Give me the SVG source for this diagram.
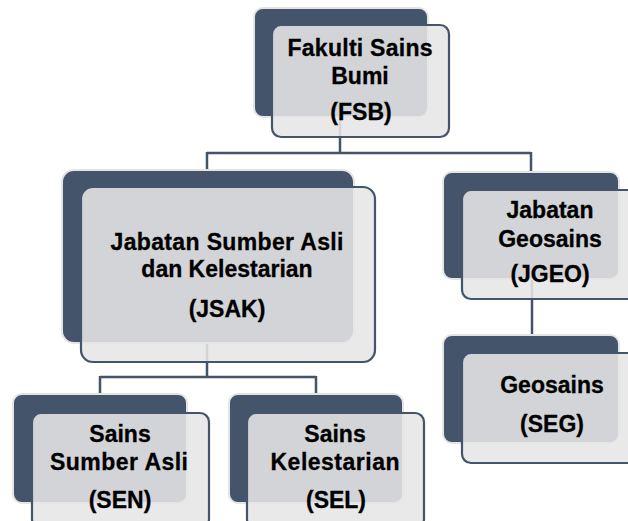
<svg xmlns="http://www.w3.org/2000/svg" width="628" height="521" viewBox="0 0 628 521">
<style>
.back{fill:#44546a;stroke:#e4e4e4;stroke-width:2}
.front{fill:#e6e6e6;fill-opacity:0.88;stroke:#44546a;stroke-width:2.2}
.conn{fill:none;stroke:#44546a;stroke-width:2.5}
text{font-family:"Liberation Sans",Arial,sans-serif;font-weight:bold;font-size:23px;fill:#000;text-anchor:middle;stroke:#000;stroke-width:0.3}
</style>
<rect width="628" height="521" fill="#fff"/>
<g id="connectors">
<path class="conn" d="M340 117V153M207 153H531M207 152V172M531 152V174"/>
<path class="conn" d="M207 343V377M100 377H316M100 376V396M316 376V396"/>
<path class="conn" d="M532 279V337"/>
</g>
<g id="fsb">
<rect class="back" x="254" y="8" width="174" height="109" rx="9"/>
<rect class="front" x="272" y="25" width="177" height="112" rx="9"/>
<text x="360" y="56" textLength="145" lengthAdjust="spacing">Fakulti Sains</text>
<text x="360" y="84">Bumi</text>
<text x="361" y="120">(FSB)</text>
</g>
<g id="jsak">
<rect class="back" x="62" y="170" width="292" height="173" rx="12"/>
<rect class="front" x="81" y="187" width="294" height="175" rx="12"/>
<text x="227" y="250" textLength="233" lengthAdjust="spacing">Jabatan Sumber Asli</text>
<text x="227" y="277">dan Kelestarian</text>
<text x="227" y="317">(JSAK)</text>
</g>
<g id="jgeo">
<rect class="back" x="443" y="172" width="176" height="107" rx="9"/>
<rect class="front" x="462" y="190" width="180" height="109" rx="9"/>
<text x="550" y="218">Jabatan</text>
<text x="550" y="247">Geosains</text>
<text x="550" y="282">(JGEO)</text>
</g>
<g id="seg">
<rect class="back" x="443" y="335" width="176" height="108" rx="9"/>
<rect class="front" x="462" y="353" width="180" height="110" rx="9"/>
<text x="552" y="393">Geosains</text>
<text x="552" y="432">(SEG)</text>
</g>
<g id="sen">
<rect class="back" x="13" y="394" width="174" height="109" rx="9"/>
<rect class="front" x="32" y="413" width="177" height="115" rx="9"/>
<text x="120" y="442">Sains</text>
<text x="119" y="470" textLength="138" lengthAdjust="spacing">Sumber Asli</text>
<text x="120" y="508">(SEN)</text>
</g>
<g id="sel">
<rect class="back" x="229" y="394" width="174" height="109" rx="9"/>
<rect class="front" x="247" y="413" width="177" height="115" rx="9"/>
<text x="335" y="442">Sains</text>
<text x="335" y="470" textLength="129" lengthAdjust="spacing">Kelestarian</text>
<text x="336" y="508">(SEL)</text>
</g>
</svg>
